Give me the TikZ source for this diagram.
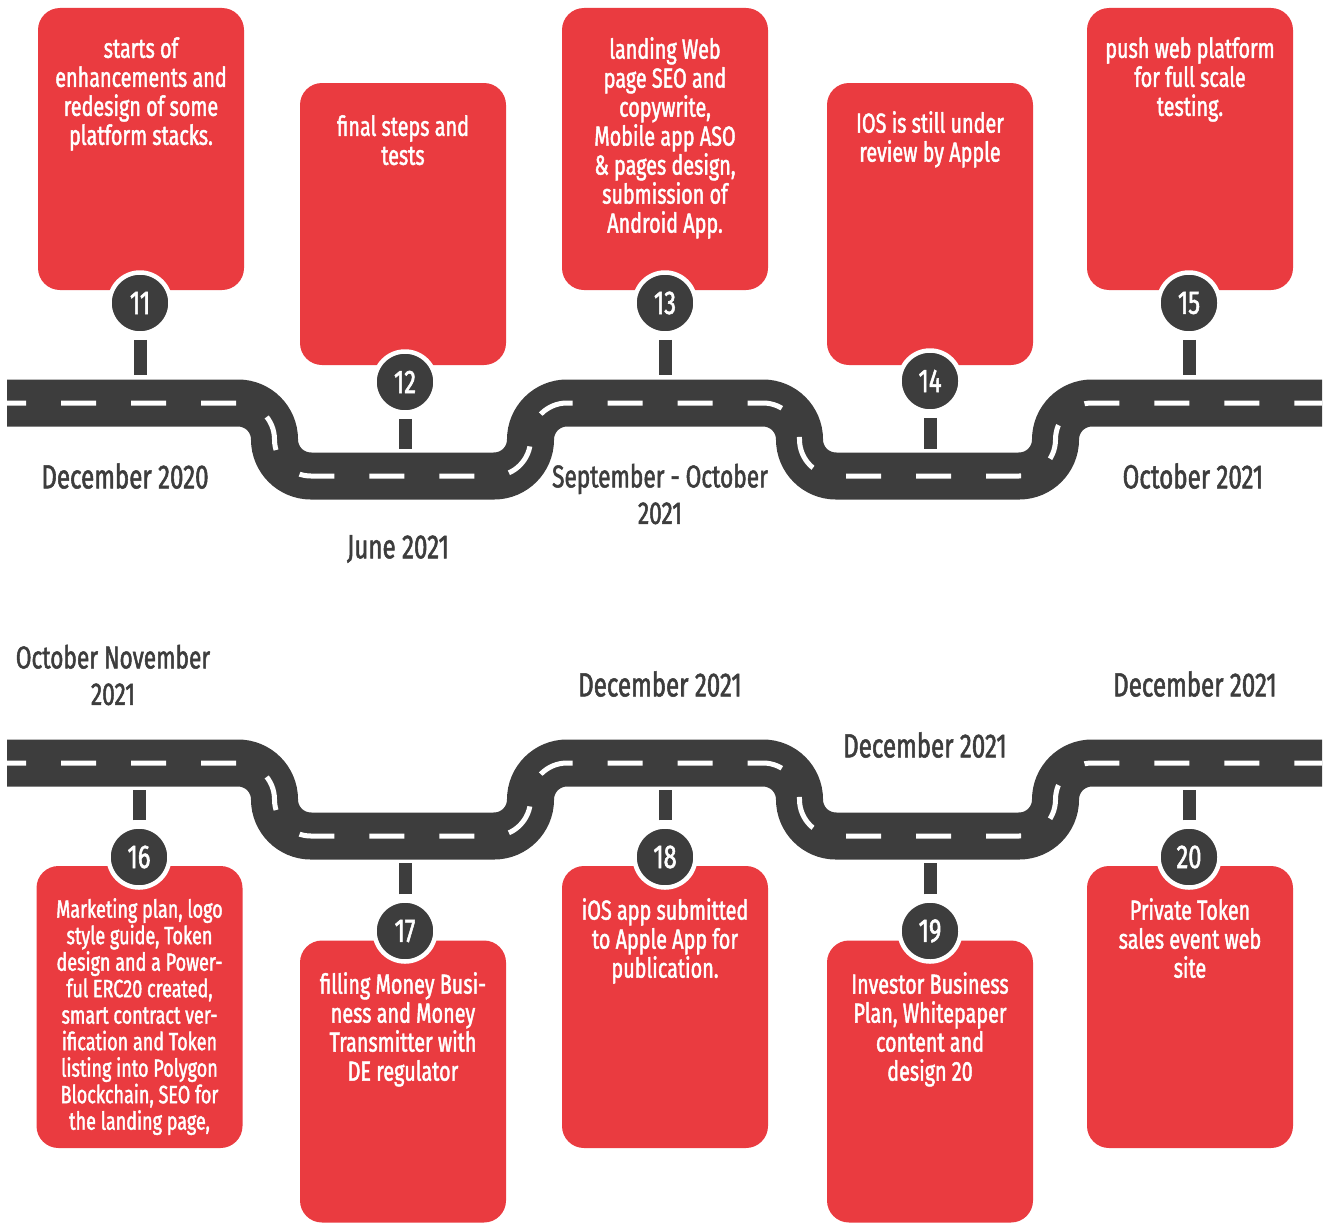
\documentclass[tikz,border=0pt]{standalone}
\usepackage{fontspec}
\setmainfont{Fira Sans}[FakeStretch=0.72,FakeBold=1.6]
\definecolor{roadc}{RGB}{61,61,61}
\definecolor{boxred}{RGB}{234,59,64}
\begin{document}
\begin{tikzpicture}[x=1pt,y=-1pt,
  box/.style={fill=boxred, rounded corners=22pt, minimum width=206pt, minimum height=282pt, inner sep=0pt},
  boxtext/.style={text=white, align=center, inner sep=0pt, anchor=north, font=\fontsize{27.5}{29}\selectfont},
  smalltext/.style={boxtext, font=\fontsize{25}{26.5}\selectfont},
  num/.style={circle, fill=roadc, draw=white, line width=4.5pt, minimum size=61pt, inner sep=0pt, text=white, font=\fontsize{33}{33}\selectfont},
  stick/.style={draw=roadc, line width=13pt},
  datelab/.style={text=roadc, align=center, inner sep=0pt, font=\fontsize{33.5}{36.5}\selectfont},
  narrowlab/.style={datelab, font=\fontsize{31.5}{36.5}\selectfont},
  road/.style={draw=roadc, line width=47pt, rounded corners=36.5pt},
  lane/.style={draw=white, line width=5pt, rounded corners=36.5pt, dash pattern=on 35pt off 35pt, dash phase=16pt}
]
\useasboundingbox (0,0) rectangle (1329,1223);
\def\roadpath{(7,403) -- (274.5,403) -- (274.5,476) -- (530.5,476) -- (530.5,403) -- (799.5,403) -- (799.5,476) -- (1055.5,476) -- (1055.5,403) -- (1322,403)}
% roads
\draw[road] \roadpath;
\draw[lane] \roadpath;
\begin{scope}[yshift=-360pt]
\draw[road] \roadpath;
\draw[lane] \roadpath;
\end{scope}

% top boxes
\node[box] (b11) at (141,149) {};
\node[box] (b12) at (403,224) {};
\node[box] (b13) at (665,149) {};
\node[box] (b14) at (930,224) {};
\node[box] (b15) at (1190,149) {};
% bottom boxes
\node[box] (b16) at (139.5,1007) {};
\node[box] (b17) at (403,1081.5) {};
\node[box] (b18) at (665,1007) {};
\node[box] (b19) at (930,1081.5) {};
\node[box] (b20) at (1190,1007) {};

% texts
\node[boxtext] (t11) at (141,37) {starts of\\enhancements and\\redesign of some\\platform stacks.};
\node[boxtext] (t12) at (403,115) {final steps and\\tests};
\node[boxtext] (t13) at (665,37) {landing Web\\page SEO and\\copywrite,\\Mobile app ASO\\\& pages design,\\submission of\\Android App.};
\node[boxtext] (t14) at (930,111) {IOS is still under\\review by Apple};
\node[boxtext] (t15) at (1190,37) {push web platform\\for full scale\\testing.};
\node[smalltext] (t16) at (139.5,898) {Marketing plan, logo\\style guide, Token\\design and a Power-\\ful ERC20 created,\\smart contract ver-\\ification and Token\\listing into Polygon\\Blockchain, SEO for\\the landing page,};
\node[boxtext] (t17) at (403,972) {filling Money Busi-\\ness and Money\\Transmitter with\\DE regulator};
\node[boxtext] (t18) at (665,898) {iOS app submitted\\to Apple App for\\publication.};
\node[boxtext] (t19) at (930,972) {Investor Business\\Plan, Whitepaper\\content and\\design 20};
\node[boxtext] (t20) at (1190,898) {Private Token\\sales event web\\site};

% circles
\node[num] (c11) at (140,303) {11};
\node[num] (c12) at (405,382) {12};
\node[num] (c13) at (665,303) {13};
\node[num] (c14) at (930,381) {14};
\node[num] (c15) at (1189,303) {15};
\node[num] (c16) at (139,857) {16};
\node[num] (c17) at (405,931) {17};
\node[num] (c18) at (665,857) {18};
\node[num] (c19) at (930,931) {19};
\node[num] (c20) at (1189,857) {20};

% stick end points on the road
\coordinate (r11) at (140,375);
\coordinate (r12) at (405,449);
\coordinate (r13) at (665,375);
\coordinate (r14) at (930,449);
\coordinate (r15) at (1189,375);
\coordinate (r16) at (139,790);
\coordinate (r17) at (405,863);
\coordinate (r18) at (665,790);
\coordinate (r19) at (930,863);
\coordinate (r20) at (1189,790);

\draw[stick] ([yshift=-4pt]c11.south) -- (r11);
\draw[stick] ([yshift=-4pt]c12.south) -- (r12);
\draw[stick] ([yshift=-4pt]c13.south) -- (r13);
\draw[stick] ([yshift=-4pt]c14.south) -- (r14);
\draw[stick] ([yshift=-4pt]c15.south) -- (r15);
\draw[stick] ([yshift=4pt]c16.north) -- (r16);
\draw[stick] ([yshift=4pt]c17.north) -- (r17);
\draw[stick] ([yshift=4pt]c18.north) -- (r18);
\draw[stick] ([yshift=4pt]c19.north) -- (r19);
\draw[stick] ([yshift=4pt]c20.north) -- (r20);

% date labels
\node[datelab] (d11) at (125,476) {December 2020};
\node[datelab] (d12) at (398,549) {June 2021};
\node[narrowlab] (d13) at (660,494) {September - October\\2021};
\node[datelab] (d15) at (1193,476) {October 2021};
\node[narrowlab] (d16) at (113,675) {October November\\2021};
\node[datelab] (d18) at (660,684) {December 2021};
\node[datelab] (d19) at (925,745) {December 2021};
\node[datelab] (d20) at (1195,684) {December 2021};
\end{tikzpicture}
\end{document}
